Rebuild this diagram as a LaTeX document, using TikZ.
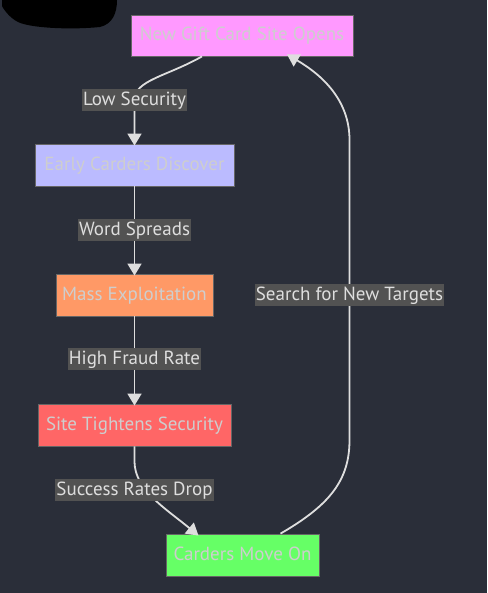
\documentclass[tikz,border=0pt]{standalone}
\usepackage{fontspec}
\setmainfont{PT Sans}
\usetikzlibrary{arrows.meta,calc}
\definecolor{bgc}{RGB}{42,46,57}
\definecolor{ntext}{RGB}{206,206,206}
\definecolor{ltext}{RGB}{222,222,222}
\definecolor{lbg}{RGB}{82,82,82}
\definecolor{edgec}{RGB}{222,222,222}
\definecolor{cpink}{RGB}{255,153,255}
\definecolor{cblue}{RGB}{187,187,255}
\definecolor{corange}{RGB}{255,153,102}
\definecolor{cred}{RGB}{255,102,102}
\definecolor{cgreen}{RGB}{102,255,102}
\tikzset{
  box/.style={draw=black!60, line width=0.8pt, minimum height=42pt, inner sep=0pt, text=ntext, text height=15pt, text depth=4pt, font=\fontsize{19}{21}\selectfont},
  elabel/.style={fill=lbg, text=ltext, inner xsep=1pt, inner ysep=0pt, minimum height=22pt, text height=15pt, text depth=4pt, font=\fontsize{19}{21}\selectfont},
  edge/.style={draw=edgec, line width=1.8pt, -{Triangle[width=14pt,length=12pt]}}
}
\begin{document}
\begin{tikzpicture}[x=1pt,y=-1pt]
\fill[bgc] (0,0) rectangle (487,593);
\useasboundingbox (0,0) rectangle (487,593);
% black blob top-left
\fill[black] (2,0) -- (117,0) .. controls (117,14) and (112,24) .. (100,27) .. controls (70,30) and (30,28) .. (18,22) .. controls (10,18) and (4,10) .. (2,6) -- cycle;
% nodes
\node[box, fill=cpink, minimum width=222pt, minimum height=41pt] (n1) at (242,35.5) {New Gift Card Site Opens};
\node[box, fill=cblue, minimum width=199pt] (n2) at (134.5,165) {Early Carders Discover};
\node[box, fill=corange, minimum width=157pt] (n3) at (134.5,295) {Mass Exploitation};
\node[box, fill=cred, minimum width=193pt] (n4) at (134.5,425) {Site Tightens Security};
\node[box, fill=cgreen, minimum width=153pt] (n5) at (242.5,555) {Carders Move On};
% label anchors
\coordinate (c1) at (134.5,100);
\coordinate (c2) at (134.5,230);
\coordinate (c3) at (134.5,359);
\coordinate (c4) at (134.5,490);
\coordinate (c5) at (349.5,295);
% edges
\draw[edge] ([xshift=-40pt]n1.south) .. controls +(-35,20) and (134.5,80) .. (c1) -- ([yshift=-2pt]n2.north);
\draw[edge] (n2.south) -- ([yshift=-2pt]n3.north);
\draw[edge] (n3.south) -- ([yshift=-2pt]n4.north);
\draw[edge] (n4.south) -- (134.5,462) .. controls (135,490) and (165,508) .. ([xshift=-44pt,yshift=-2pt]n5.north);
\draw[edge] ([xshift=38pt]n5.north) .. controls (330,505) and (349.5,480) .. (349.5,440) -- (349.5,140) .. controls (349.5,100) and (322,75) .. ([xshift=45pt,yshift=2pt]n1.south);
% edge labels
\node[elabel] (l1) at (c1) {Low Security};
\node[elabel] (l2) at (c2) {Word Spreads};
\node[elabel] (l3) at (c3) {High Fraud Rate};
\node[elabel] (l4) at (c4) {Success Rates Drop};
\node[elabel] (l5) at (c5) {Search for New Targets};
\end{tikzpicture}
\end{document}
